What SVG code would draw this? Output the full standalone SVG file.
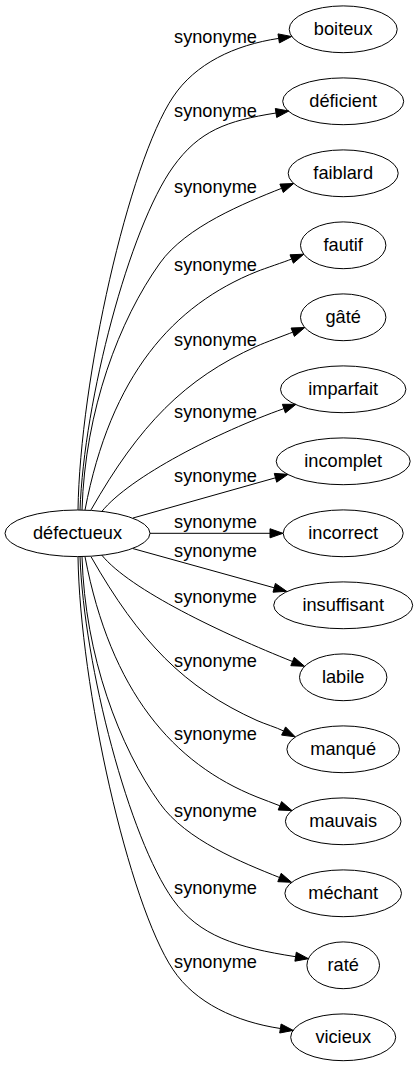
<svg xmlns="http://www.w3.org/2000/svg" width="418" height="1067" viewBox="0 0 418 1067">
<style>
text{font-family:"Liberation Sans",Arial,sans-serif;font-size:18.2px;fill:#000}
.n ellipse{fill:none;stroke:#000;stroke-width:1}
.n text{text-anchor:middle}
.e path{fill:none;stroke:#000;stroke-width:1}
.e polygon{fill:#000;stroke:#000;stroke-width:1}
.e text{text-anchor:middle}
</style>
<rect width="418" height="1067" fill="#fff"/>
<g id="connectors" class="e">
<g id="e-boiteux"><path d="M78,510 C80,380 128.6,163.6 173,97 C195.2,63.7 234.2,45.1 278.7,38.4"/><polygon points="291.6,36.5 279.4,42.9 278,33.9"/><text x="215.5" y="43.3">synonyme</text></g>
<g id="e-deficient"><path d="M80,510 C84,400 129.5,227.8 173,167 C199.1,130.6 226.6,120.8 276,113"/><polygon points="288.8,111 276.7,117.5 275.3,108.5"/><text x="215.5" y="117.3">synonyme</text></g>
<g id="e-faiblard"><path d="M82,510 C85,410 119.4,319.7 160,263 C186.1,226.5 244.5,203.1 281.6,188.3"/><polygon points="293.7,183.5 283.3,192.5 279.9,184.1"/><text x="215.5" y="193.3">synonyme</text></g>
<g id="e-fautif"><path d="M85,510 C110.7,375 173.3,305 257,271.5 C264.4,268.5 284.3,262 291.7,259"/><polygon points="303.8,254.2 293.4,263.2 290,254.8"/><text x="215.5" y="270.7">synonyme</text></g>
<g id="e-gate"><path d="M91,509.9 C139.5,424.9 184.2,378.9 257,346.1 C264.3,342.8 285.2,335.1 292.7,332.2"/><polygon points="304.8,327.5 294.4,336.4 291.1,328"/><text x="215.5" y="346">synonyme</text></g>
<g id="e-imparfait"><path d="M101.7,511.6 C130,476.6 218,432 283.9,408.6"/><polygon points="296,404.3 285.4,412.9 282.4,404.3"/><text x="215.5" y="418.3">synonyme</text></g>
<g id="e-incomplet"><path d="M133,518 L275.5,477.8"/><polygon points="288,474.3 276.7,482.2 274.3,473.4"/><text x="215.5" y="481.7">synonyme</text></g>
<g id="e-incorrect"><path d="M150,533.3 L270,533.3"/><polygon points="283,533.3 270,537.85 270,528.75"/><text x="215.5" y="528.3">synonyme</text></g>
<g id="e-insuffisant"><path d="M133,548.6 L274.2,587.8"/><polygon points="286.7,591.3 273,592.2 275.4,583.4"/><text x="215.5" y="556.7">synonyme</text></g>
<g id="e-labile"><path d="M101.7,555 C130,590 222.9,633.7 292.5,661.5"/><polygon points="304.6,666.3 290.8,665.7 294.2,657.3"/><text x="215.5" y="603">synonyme</text></g>
<g id="e-manque"><path d="M91,556.7 C139.5,641.7 184.2,687.7 257,720.5 C264.3,723.8 276.4,727.4 283.6,731"/><polygon points="295.2,736.8 281.6,735.1 285.6,726.9"/><text x="215.5" y="666.7">synonyme</text></g>
<g id="e-mauvais"><path d="M85,556.7 C110.7,691.7 173.3,763.7 257,797 C264.4,800 272.5,802.8 279.9,805.8"/><polygon points="292,810.6 278.2,810 281.6,801.6"/><text x="215.5" y="740">synonyme</text></g>
<g id="e-mechant"><path d="M82,556.6 C85,656.6 119.4,746.9 160,803.6 C186.1,840.1 242.4,862.7 279.5,877.5"/><polygon points="291.6,882.3 277.8,881.7 281.2,873.3"/><text x="215.5" y="816.7">synonyme</text></g>
<g id="e-rate"><path d="M80,556.6 C84,666.6 129.5,838.8 173,899.6 C199.1,936 236.3,947.4 295.6,956.7"/><polygon points="308.4,958.7 294.9,961.2 296.3,952.2"/><text x="215.5" y="894">synonyme</text></g>
<g id="e-vicieux"><path d="M78,556.6 C80,686.6 128.6,903 173,969.6 C195.2,1002.9 235.9,1021.8 280.4,1028.5"/><polygon points="293.3,1030.4 279.7,1033 281.1,1024"/><text x="215.5" y="968">synonyme</text></g>
</g>
<g id="n-defectueux" class="n"><ellipse cx="77.5" cy="533.3" rx="72.5" ry="23.3"/><text x="77.5" y="538.8">défectueux</text></g>
<g id="n-boiteux" class="n"><ellipse cx="343.2" cy="29.3" rx="54" ry="23.4"/><text x="343.2" y="34.8">boiteux</text></g>
<g id="n-deficient" class="n"><ellipse cx="343.2" cy="101.3" rx="60.5" ry="23.4"/><text x="343.2" y="106.8">déficient</text></g>
<g id="n-faiblard" class="n"><ellipse cx="343.2" cy="173.3" rx="55" ry="23.4"/><text x="343.2" y="178.8">faiblard</text></g>
<g id="n-fautif" class="n"><ellipse cx="343.2" cy="245.3" rx="42.7" ry="23.4"/><text x="343.2" y="250.8">fautif</text></g>
<g id="n-gate" class="n"><ellipse cx="343.2" cy="317.3" rx="42.7" ry="23.4"/><text x="343.2" y="322.8">gâté</text></g>
<g id="n-imparfait" class="n"><ellipse cx="343.2" cy="389.3" rx="62.7" ry="23.4"/><text x="343.2" y="394.8">imparfait</text></g>
<g id="n-incomplet" class="n"><ellipse cx="343.2" cy="461.3" rx="67" ry="23.4"/><text x="343.2" y="466.8">incomplet</text></g>
<g id="n-incorrect" class="n"><ellipse cx="343.2" cy="533.3" rx="60" ry="23.4"/><text x="343.2" y="538.8">incorrect</text></g>
<g id="n-insuffisant" class="n"><ellipse cx="343.2" cy="605.3" rx="69.5" ry="23.4"/><text x="343.2" y="610.8">insuffisant</text></g>
<g id="n-labile" class="n"><ellipse cx="343.2" cy="677.3" rx="43.7" ry="23.4"/><text x="343.2" y="682.8">labile</text></g>
<g id="n-manque" class="n"><ellipse cx="343.2" cy="749.3" rx="56.3" ry="23.4"/><text x="343.2" y="754.8">manqué</text></g>
<g id="n-mauvais" class="n"><ellipse cx="343.2" cy="821.3" rx="57.8" ry="23.4"/><text x="343.2" y="826.8">mauvais</text></g>
<g id="n-mechant" class="n"><ellipse cx="343.2" cy="893.3" rx="58.3" ry="23.4"/><text x="343.2" y="898.8">méchant</text></g>
<g id="n-rate" class="n"><ellipse cx="343.2" cy="965.3" rx="36.3" ry="23.4"/><text x="343.2" y="970.8">raté</text></g>
<g id="n-vicieux" class="n"><ellipse cx="343.2" cy="1037.3" rx="52.5" ry="23.4"/><text x="343.2" y="1042.8">vicieux</text></g>
</svg>
